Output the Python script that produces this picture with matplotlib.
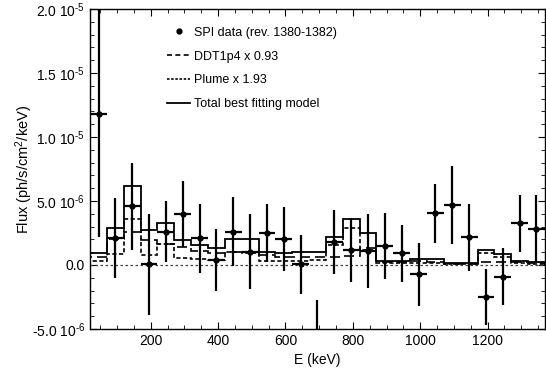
import numpy as np
import matplotlib
matplotlib.use("Agg")
import matplotlib.pyplot as plt
from matplotlib.ticker import MultipleLocator, FuncFormatter

plt.rcParams['font.family'] = ['Liberation Sans', 'DejaVu Sans']
plt.rcParams['mathtext.fontset'] = 'custom'
plt.rcParams['mathtext.rm'] = 'Liberation Sans'
plt.rcParams['mathtext.it'] = 'Liberation Sans:italic'
plt.rcParams['mathtext.bf'] = 'Liberation Sans:bold'
plt.rcParams['mathtext.default'] = 'regular'

# SPI data points (bin centres in keV, flux and 1 sigma error in ph/s/cm2/keV)
energy = [45, 95, 145, 195, 245, 295, 345, 395, 445, 495, 545, 595, 645, 695,
          745, 795, 845, 895, 945, 995, 1045, 1095, 1145, 1195, 1245, 1295, 1345]
flux = [11.8, 2.1, 4.6, 0.05, 2.6, 4.0, 2.1, 0.4, 2.6, 1.05, 2.5, 2.0, 0.05, -7.5,
        1.8, 1.2, 1.1, 1.5, 0.9, -0.73, 4.05, 4.7, 2.15, -2.5, -0.9, 3.25, 2.85]
flux_err = [9.6, 3.1, 3.4, 3.95, 2.4, 2.6, 2.7, 2.4, 2.7, 2.9, 2.3, 2.5, 2.3, 4.8,
            2.5, 2.5, 2.9, 2.6, 2.25, 2.45, 2.3, 3.05, 2.6, 2.2, 2.2, 2.2, 2.6]
half_width = 25

# model histograms, one value per bin (1e-6 ph/s/cm2/keV)
ddt = [0.6, 2.05, 2.6, 1.95, 1.65, 1.4, 1.1, 0.95, 1.0, 1.0, 0.75, 0.65, 0.65, 0.6,
       0.6, 0.68, 1.3, 0.2, 0.22, 0.3, 0.25, 0.1, 0.1, 0.2, 0.22, 0.2, 0.15]
plume = [0.35, 0.88, 3.6, 0.8, 1.65, 0.56, 0.46, 0.4, 1.0, 0.95, 0.3, 0.3, 0.35, 0.4,
         1.6, 2.9, 1.2, 0.15, 0.13, 0.18, 0.18, 0.07, 0.07, 0.95, 0.6, 0.12, 0.1]
total = [0.96, 2.93, 6.2, 2.72, 3.3, 1.95, 1.56, 1.35, 2.0, 2.0, 1.04, 0.95, 1.0, 1.0,
         2.22, 3.58, 2.53, 0.35, 0.35, 0.49, 0.43, 0.17, 0.17, 1.17, 0.83, 0.34, 0.25]

scale = 1e-6
centers = np.array(energy)
edges = np.append(centers - half_width, centers[-1] + half_width)

fig = plt.figure(figsize=(5.46, 3.79), dpi=100)
ax = fig.add_axes([0.165, 0.132, 0.833, 0.844])

ax.axhline(0, color='#444444', lw=0.9, ls=(0, (2, 2)))
ax.stairs(np.array(ddt) * scale, edges, color='black', lw=1.2, ls=(0, (6, 3)))
ax.stairs(np.array(plume) * scale, edges, color='black', lw=1.2, ls=(0, (2.5, 1.5)))
ax.stairs(np.array(total) * scale, edges, color='black', lw=1.3)
ax.errorbar(centers, np.array(flux) * scale, yerr=np.array(flux_err) * scale,
            xerr=half_width, fmt='o', ms=3.5, color='black', elinewidth=1.6,
            capsize=0)

# legend entries, no frame
h_data = ax.errorbar([], [], fmt='o', ms=3.5, color='black')
h_ddt, = ax.plot([], [], color='black', lw=1.2, ls=(0, (3, 2)))
h_plume, = ax.plot([], [], color='black', lw=1.2, ls=(0, (1.5, 1)))
h_tot, = ax.plot([], [], color='black', lw=1.3)
ax.legend([h_data, h_ddt, h_plume, h_tot],
          ['SPI data (rev. 1380-1382)', 'DDT1p4 x 0.93', 'Plume x 1.93',
           'Total best fitting model'],
          frameon=False, loc='upper left', bbox_to_anchor=(0.145, 0.98),
          fontsize=9, handlelength=1.8, handletextpad=0.3, labelspacing=0.95)

ax.set_xlim(20, 1370)
ax.set_ylim(-5e-6, 2e-5)
ax.xaxis.set_major_locator(MultipleLocator(200))
ax.xaxis.set_minor_locator(MultipleLocator(50))
ax.yaxis.set_major_locator(MultipleLocator(5e-6))
ax.yaxis.set_minor_locator(MultipleLocator(1e-6))


def fmt_y(v, pos):
    if abs(v) < 1e-12:
        return '0.0'
    exp = int(np.floor(np.log10(abs(v))))
    mant = v / 10 ** exp
    return '%s 10$^{\u2010%d}$' % (('%.1f' % mant).replace('\u2212', '-'), -exp)


ax.yaxis.set_major_formatter(FuncFormatter(fmt_y))
ax.tick_params(which='both', direction='in', top=True, right=True, labelsize=10)
ax.tick_params(which='major', length=5)
ax.tick_params(which='minor', length=3)
for s in ax.spines.values():
    s.set_linewidth(1.0)

ax.set_xlabel('E (keV)', fontsize=10)
ax.set_ylabel('Flux (ph/s/cm$^2$/keV)', fontsize=10.5)
ax.yaxis.set_label_coords(-0.122, 0.5)

fig.savefig('out.png', dpi=100)
